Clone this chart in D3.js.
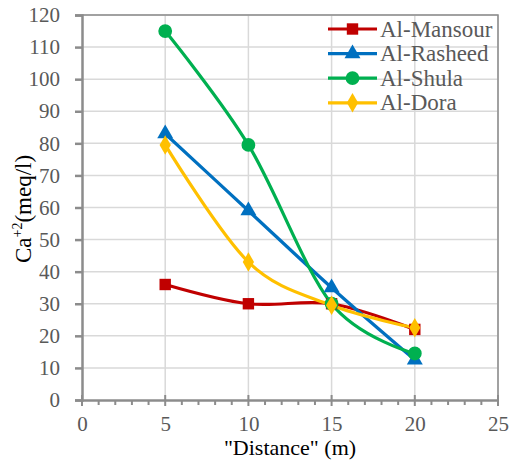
<!DOCTYPE html>
<html lang="en">
<head>
<meta charset="UTF-8">
<title>Ca+2 vs distance</title>
<script src="https://d3js.org/d3.v7.min.js"></script>
<style>
  body { margin: 0; background: #fff; }
  svg { display: block; }
</style>
</head>
<body>
<svg id="chart"></svg>
<script>
// distances along the x axis (m)
const distances = [5, 10, 15, 20];

// Ca+2 (meq/l)
const mansour = [36, 30, 30, 22];
const rasheed = [83, 59, 35, 12.5];
const shula   = [115, 79.5, 30, 14.5];
const dora    = [79.5, 43, 29.5, 22.5];

const seriesNames = ["Al-Mansour", "Al-Rasheed", "Al-Shula", "Al-Dora"];
const xTicks = [0, 5, 10, 15, 20, 25];
const yTicks = [0, 10, 20, 30, 40, 50, 60, 70, 80, 90, 100, 110, 120];

const series = [
  { name: seriesNames[0], values: mansour, color: "#C00000", symbol: d3.symbolSquare, size: 130 },
  { name: seriesNames[1], values: rasheed, color: "#0070C0", symbol: d3.symbolTriangle, size: 110 },
  { name: seriesNames[2], values: shula,   color: "#00B050", symbol: d3.symbolCircle, size: 150 },
  { name: seriesNames[3], values: dora,    color: "#FFC000", symbol: d3.symbolDiamond, size: 110 }
];

const fontName = "Liberation Serif, serif";
const width = 511, height = 464;
const margin = { top: 15, right: 13, bottom: 64, left: 82 };

const svg = d3.select("#chart")
  .attr("width", width).attr("height", height)
  .attr("font-family", fontName);

const x = d3.scaleLinear().domain([0, 25]).range([margin.left, width - margin.right]);
const y = d3.scaleLinear().domain([0, 120]).range([height - margin.bottom, margin.top]);

// gridlines
svg.append("g")
  .selectAll("line")
  .data(yTicks.slice(1))
  .join("line")
  .attr("x1", x(0)).attr("x2", x(25))
  .attr("y1", d => y(d)).attr("y2", d => y(d))
  .attr("stroke", "#d9d9d9").attr("stroke-width", 1.5);

svg.append("g")
  .selectAll("line")
  .data(xTicks.slice(1))
  .join("line")
  .attr("x1", d => x(d)).attr("x2", d => x(d))
  .attr("y1", y(0)).attr("y2", y(120))
  .attr("stroke", "#d9d9d9").attr("stroke-width", 1.5);

// plot border (top / right)
svg.append("path")
  .attr("d", `M${x(0)},${y(120)}H${x(25)}V${y(0)}`)
  .attr("fill", "none").attr("stroke", "#8c8c8c").attr("stroke-width", 1.5);

// y axis
const yAxis = d3.axisLeft(y).tickValues(yTicks).tickSize(7).tickPadding(15);
svg.append("g")
  .attr("transform", `translate(${x(0)},0)`)
  .call(yAxis)
  .attr("font-family", fontName)
  .attr("font-size", 21)
  .call(g => g.select(".domain").attr("stroke", "#8c8c8c").attr("stroke-width", 2.5))
  .call(g => g.selectAll(".tick line").attr("stroke", "#8c8c8c").attr("stroke-width", 2.5))
  .call(g => g.selectAll(".tick text")
    .attr("fill", "#595959").attr("font-size", 21)
    .attr("font-family", fontName));

// x axis: minor ticks every 1, majors crossing the line
const minor = d3.range(0, 26);
svg.append("g")
  .selectAll("line")
  .data(minor)
  .join("line")
  .attr("x1", d => x(d)).attr("x2", d => x(d))
  .attr("y1", d => d % 5 === 0 ? y(0) - 5 : y(0))
  .attr("y2", d => d % 5 === 0 ? y(0) + 6 : y(0) + 5)
  .attr("stroke", "#8c8c8c").attr("stroke-width", 2);

const xAxis = d3.axisBottom(x).tickValues(xTicks).tickSize(0).tickPadding(16);
svg.append("g")
  .attr("transform", `translate(0,${y(0)})`)
  .call(xAxis)
  .attr("font-family", fontName)
  .attr("font-size", 21)
  .call(g => g.select(".domain").attr("stroke", "#8c8c8c").attr("stroke-width", 2.5))
  .call(g => g.selectAll(".tick text")
    .attr("fill", "#595959").attr("font-size", 21)
    .attr("font-family", fontName));

// axis titles
svg.append("text")
  .attr("x", (x(0) + x(25)) / 2)
  .attr("y", 455)
  .attr("text-anchor", "middle")
  .attr("font-size", 22)
  .attr("font-family", fontName)
  .attr("fill", "#000")
  .text('"Distance" (m)');

const yTitle = svg.append("text")
  .attr("transform", `translate(31,209) rotate(-90)`)
  .attr("text-anchor", "middle")
  .attr("font-size", 23)
  .attr("font-family", fontName)
  .attr("fill", "#000");
yTitle.append("tspan").text("Ca");
yTitle.append("tspan").attr("font-size", 14).attr("dy", -9).text("+2");
yTitle.append("tspan").attr("dy", 9).text("(meq/l)");

// lines
const line = d3.line()
  .x((d, i) => x(distances[i]))
  .y(d => y(d))
  .curve(d3.curveCardinal.tension(0));

svg.append("g")
  .selectAll("path")
  .data(series)
  .join("path")
  .attr("d", s => line(s.values))
  .attr("fill", "none")
  .attr("stroke", s => s.color)
  .attr("stroke-width", 3.2);

// markers
series.forEach(s => {
  svg.append("g")
    .selectAll("path")
    .data(s.values)
    .join("path")
    .attr("transform", (d, i) => `translate(${x(distances[i])},${y(d)})`)
    .attr("d", d3.symbol().type(s.symbol).size(s.size))
    .attr("fill", s.color);
});

// legend
const legend = svg.append("g");
series.forEach((s, i) => {
  const ly = 29 + i * 24.6;
  legend.append("line")
    .attr("x1", 328).attr("x2", 377)
    .attr("y1", ly).attr("y2", ly)
    .attr("stroke", s.color).attr("stroke-width", 3.2);
  legend.append("path")
    .attr("transform", `translate(352.5,${ly})`)
    .attr("d", d3.symbol().type(s.symbol).size(s.size))
    .attr("fill", s.color);
  legend.append("text")
    .attr("x", 380).attr("y", ly + 7.5)
    .attr("font-size", 23)
    .attr("font-family", fontName)
    .attr("fill", "#595959")
    .text(s.name);
});
</script>
</body>
</html>
